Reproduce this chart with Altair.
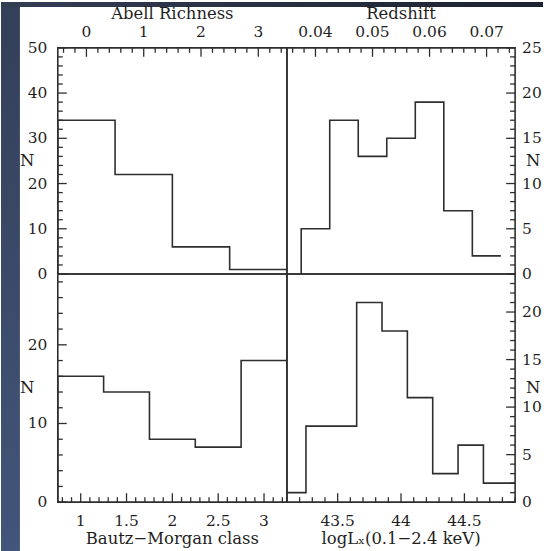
import math
import altair as alt
import numpy as np
import pandas as pd

# ---------------- data ----------------
richness_edges = [-0.5, 0.5, 1.5, 2.5, 3.5]
richness_counts = [34, 22, 6, 1]

redshift_edges = [0.0375, 0.0425, 0.0475, 0.0525, 0.0575, 0.0625, 0.0675, 0.0725]
redshift_counts = [5, 17, 13, 15, 19, 7, 2]

bm_edges = [0.75, 1.25, 1.75, 2.25, 2.75, 3.25]
bm_counts = [16, 14, 8, 7, 18]

lx_edges = [43.05, 43.25, 43.45, 43.65, 43.85, 44.05, 44.25, 44.45, 44.65, 44.9]
lx_counts = [1, 8, 8, 21, 18, 11, 3, 6, 2]

richness_ticks = [0, 1, 2, 3]
redshift_ticks = [0.04, 0.05, 0.06, 0.07]
bm_ticks = [1, 1.5, 2, 2.5, 3]
lx_ticks = [43.5, 44, 44.5]
n_ticks_top_left = [0, 10, 20, 30, 40, 50]
n_ticks_top_right = [0, 5, 10, 15, 20, 25]
n_ticks_bottom_left = [0, 10, 20]
n_ticks_bottom_right = [0, 5, 10, 15, 20]

# ---------------- style ----------------
FONT = "DejaVu Serif"
INK = "#2e2e2e"
TEXT = "#1f1f1f"
LABEL_SIZE = 15.5
TITLE_SIZE = 16.5
MAJ, MIN = 9, 5


def steps(edges, counts):
    rows = [{"x": edges[0], "y": 0}]
    for i, c in enumerate(counts):
        rows.append({"x": edges[i], "y": c})
        rows.append({"x": edges[i + 1], "y": c})
    for k, r in enumerate(rows):
        r["i"] = k
    return pd.DataFrame(rows)


def minor(lo, hi, step, majors):
    start = math.ceil(lo / step - 1e-9) * step
    vals = np.round(np.arange(start, hi + step * 1e-6, step), 6)
    return [float(v) for v in vals if all(abs(v - m) > step * 1e-3 for m in majors)]


def tick_marks(values, scale, channel, orient, length, w, h):
    df = pd.DataFrame({"v": values})
    if channel == "x":
        yc = length / 2 if orient == "top" else h - length / 2
        return alt.Chart(df).mark_tick(
            color=INK, opacity=1, size=length, thickness=1.3, orient="vertical"
        ).encode(x=alt.X("v:Q", scale=scale, axis=None), y=alt.value(yc))
    xc = length / 2 if orient == "left" else w - length / 2
    return alt.Chart(df).mark_tick(
        color=INK, opacity=1, size=length, thickness=1.3, orient="horizontal"
    ).encode(y=alt.Y("v:Q", scale=scale, axis=None), x=alt.value(xc))


def tick_labels(values, scale, channel, orient, fmt, w, h):
    df = pd.DataFrame({"v": values})
    if channel == "x":
        ypos = -11 if orient == "top" else h + 24
        return alt.Chart(df).mark_text(
            font=FONT, fontSize=LABEL_SIZE, color=TEXT, align="center", baseline="alphabetic"
        ).encode(x=alt.X("v:Q", scale=scale, axis=None), y=alt.value(ypos),
                 text=alt.Text("v:Q", format=fmt))
    if orient == "left":
        xpos, al = -10.5, "right"
    else:
        xpos, al = w + 7, "left"
    return alt.Chart(df).mark_text(
        font=FONT, fontSize=LABEL_SIZE, color=TEXT, align=al, baseline="middle"
    ).encode(y=alt.Y("v:Q", scale=scale, axis=None), x=alt.value(xpos),
             text=alt.Text("v:Q", format=fmt))


one = pd.DataFrame({"a": [0]})


def title_text(text, x, y, align, baseline):
    return alt.Chart(one).mark_text(
        font=FONT, fontSize=TITLE_SIZE, color=TEXT, align=align, baseline=baseline, text=text
    ).encode(x=alt.value(x), y=alt.value(y))


def panel(edges, counts, xdom, ydom, xorient, yorient, xmaj, xstep, ymaj, ystep,
          xtitle, xfmt, w, h):
    df = steps(edges, counts)
    xs = alt.Scale(domain=xdom, nice=False, zero=False)
    ys = alt.Scale(domain=ydom, nice=False, zero=False)

    line = alt.Chart(df).mark_line(color=INK, strokeWidth=1.6, clip=True).encode(
        x=alt.X("x:Q", scale=xs, axis=None),
        y=alt.Y("y:Q", scale=ys, axis=None),
        order="i:Q",
    )
    layers = [
        line,
        tick_marks(xmaj, xs, "x", xorient, MAJ, w, h),
        tick_marks(minor(xdom[0], xdom[1], xstep, xmaj), xs, "x", xorient, MIN, w, h),
        tick_marks(ymaj, ys, "y", yorient, MAJ, w, h),
        tick_marks(minor(ydom[0], ydom[1], ystep, ymaj), ys, "y", yorient, MIN, w, h),
        tick_labels(xmaj, xs, "x", xorient, xfmt, w, h),
        tick_labels(ymaj, ys, "y", yorient, "d", w, h),
    ]
    ty = -29 if xorient == "top" else h + 42
    layers.append(title_text(xtitle, w / 2, ty, "center", "alphabetic"))
    nx = -38 if yorient == "left" else w + 11
    layers.append(title_text("N", nx, h / 2, "left", "middle"))
    return layers


W_L, W_R = 230, 229
H_T, H_B = 227, 229

tl = panel(richness_edges, richness_counts, [-0.5, 3.5], [0, 50], "top", "left",
           richness_ticks, 0.2, n_ticks_top_left, 2, "Abell Richness", "d", W_L, H_T)
tr = panel(redshift_edges, redshift_counts, [0.035, 0.075], [0, 25], "top", "right",
           redshift_ticks, 0.002, n_ticks_top_right, 1, "Redshift", ".2f", W_R, H_T)
bl = panel(bm_edges, bm_counts, [0.75, 3.25], [0, 29], "bottom", "left",
           bm_ticks, 0.1, n_ticks_bottom_left, 2, "Bautz\u2212Morgan class", "~g", W_L, H_B)
br = panel(lx_edges, lx_counts, [43.1, 44.9], [0, 24], "bottom", "right",
           lx_ticks, 0.1, n_ticks_bottom_right, 1, "logL\u2093(0.1\u22122.4 keV)", "~g", W_R, H_B)

# slide background strips (decoration around the figure)
left_strip = alt.Chart(one).mark_rect(
    strokeWidth=0,
    color=alt.LinearGradient(gradient="linear", x1=0, x2=0, y1=0, y2=1,
                             stops=[alt.GradientStop(offset=0, color="#343f58"),
                                    alt.GradientStop(offset=1, color="#42557a")]),
).encode(x=alt.value(-57), x2=alt.value(-38), y=alt.value(-46), y2=alt.value(505))
top_strip = alt.Chart(one).mark_rect(
    strokeWidth=0,
    color=alt.LinearGradient(gradient="linear", x1=0, x2=1, y1=0, y2=0,
                             stops=[alt.GradientStop(offset=0, color="#333d54"),
                                    alt.GradientStop(offset=1, color="#1c2230")]),
).encode(x=alt.value(-57), x2=alt.value(487), y=alt.value(-46), y2=alt.value(-41))


def lay(layers, w, h):
    return alt.layer(*layers).properties(width=w, height=h)


TL = lay([left_strip, top_strip] + tl, W_L, H_T)
TR = lay(tr, W_R, H_T)
BL = lay(bl, W_L, H_B)
BR = lay(br, W_R, H_B)

chart = (
    alt.concat(TL, TR, BL, BR, columns=2, spacing=0, bounds="flush")
    .properties(padding=0, background="white")
    .configure_view(stroke=INK, strokeWidth=1.6)
)

chart.save("out.html", embed_options={"renderer": "svg", "actions": False})
